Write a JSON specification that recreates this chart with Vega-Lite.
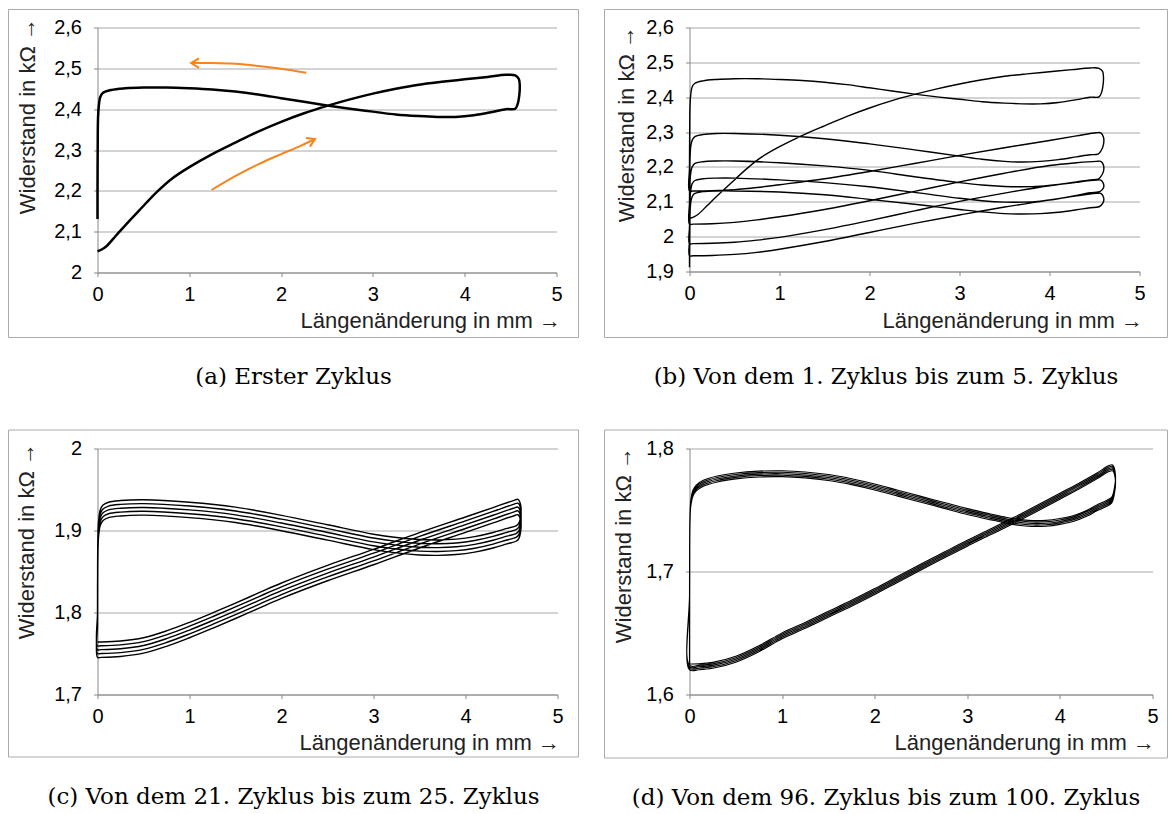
{
"$schema": "https://vega.github.io/schema/vega-lite/v6.json",
"padding": {"left": 7.5, "top": 8.5, "right": 0, "bottom": 0},
"background": "white",
"datasets": {
"b": [
{"c":1,"x":0,"y":2.052},{"c":1,"x":0.05,"y":2.057},{"c":1,"x":0.1,"y":2.065},{"c":1,"x":0.2,"y":2.09},{"c":1,"x":0.3,"y":2.115},{"c":1,"x":0.45,"y":2.151},{"c":1,"x":0.65,"y":2.198},{"c":1,"x":0.8,"y":2.228},{"c":1,"x":1,"y":2.258},{"c":1,"x":1.25,"y":2.29},{"c":1,"x":1.5,"y":2.318},{"c":1,"x":1.75,"y":2.345},{"c":1,"x":2,"y":2.369},{"c":1,"x":2.25,"y":2.39},{"c":1,"x":2.5,"y":2.408},{"c":1,"x":2.75,"y":2.424},{"c":1,"x":3,"y":2.438},{"c":1,"x":3.25,"y":2.45},{"c":1,"x":3.5,"y":2.46},{"c":1,"x":3.75,"y":2.467},{"c":1,"x":4,"y":2.473},{"c":1,"x":4.25,"y":2.479},{"c":1,"x":4.45,"y":2.484},{"c":1,"x":4.55,"y":2.483},{"c":1,"x":4.59,"y":2.474},{"c":1,"x":4.6,"y":2.455},{"c":1,"x":4.595,"y":2.435},{"c":1,"x":4.58,"y":2.415},{"c":1,"x":4.55,"y":2.401},{"c":1,"x":4.45,"y":2.4},{"c":1,"x":4.3,"y":2.393},{"c":1,"x":4.1,"y":2.385},{"c":1,"x":3.9,"y":2.381},{"c":1,"x":3.7,"y":2.381},{"c":1,"x":3.5,"y":2.383},{"c":1,"x":3.25,"y":2.387},{"c":1,"x":3,"y":2.394},{"c":1,"x":2.75,"y":2.401},{"c":1,"x":2.5,"y":2.409},{"c":1,"x":2.25,"y":2.418},{"c":1,"x":2,"y":2.427},{"c":1,"x":1.75,"y":2.436},{"c":1,"x":1.5,"y":2.443},{"c":1,"x":1.25,"y":2.448},{"c":1,"x":1,"y":2.451},{"c":1,"x":0.75,"y":2.453},{"c":1,"x":0.5,"y":2.453},{"c":1,"x":0.3,"y":2.451},{"c":1,"x":0.15,"y":2.447},{"c":1,"x":0.06,"y":2.44},{"c":1,"x":0.03,"y":2.43},{"c":1,"x":0.015,"y":2.41},{"c":1,"x":0.006,"y":2.38},{"c":1,"x":0.002,"y":2.3},{"c":1,"x":0,"y":2.2},{"c":1,"x":0,"y":2.131},
{"c":2,"x":0.04,"y":2.131},{"c":2,"x":0.25,"y":2.132},{"c":2,"x":0.5,"y":2.135},{"c":2,"x":0.75,"y":2.141},{"c":2,"x":1,"y":2.149},{"c":2,"x":1.5,"y":2.166},{"c":2,"x":2,"y":2.187},{"c":2,"x":2.5,"y":2.21},{"c":2,"x":3,"y":2.233},{"c":2,"x":3.5,"y":2.255},{"c":2,"x":4,"y":2.276},{"c":2,"x":4.3,"y":2.289},{"c":2,"x":4.52,"y":2.298},{"c":2,"x":4.57,"y":2.298},{"c":2,"x":4.6,"y":2.285},{"c":2,"x":4.6,"y":2.265},{"c":2,"x":4.57,"y":2.245},{"c":2,"x":4.54,"y":2.237},{"c":2,"x":4.45,"y":2.235},{"c":2,"x":4.3,"y":2.229},{"c":2,"x":4.1,"y":2.221},{"c":2,"x":3.9,"y":2.216},{"c":2,"x":3.7,"y":2.214},{"c":2,"x":3.5,"y":2.216},{"c":2,"x":3.25,"y":2.222},{"c":2,"x":3,"y":2.231},{"c":2,"x":2.5,"y":2.249},{"c":2,"x":2,"y":2.266},{"c":2,"x":1.5,"y":2.281},{"c":2,"x":1,"y":2.291},{"c":2,"x":0.5,"y":2.296},{"c":2,"x":0.3,"y":2.296},{"c":2,"x":0.15,"y":2.293},{"c":2,"x":0.06,"y":2.287},{"c":2,"x":0.03,"y":2.277},{"c":2,"x":0.015,"y":2.26},{"c":2,"x":0.006,"y":2.23},{"c":2,"x":0.002,"y":2.17},{"c":2,"x":0,"y":2.1},{"c":2,"x":0,"y":2.036},
{"c":3,"x":0.04,"y":2.036},{"c":3,"x":0.25,"y":2.037},{"c":3,"x":0.5,"y":2.041},{"c":3,"x":0.75,"y":2.048},{"c":3,"x":1,"y":2.057},{"c":3,"x":1.5,"y":2.078},{"c":3,"x":2,"y":2.103},{"c":3,"x":2.5,"y":2.13},{"c":3,"x":3,"y":2.157},{"c":3,"x":3.5,"y":2.182},{"c":3,"x":4,"y":2.204},{"c":3,"x":4.3,"y":2.212},{"c":3,"x":4.52,"y":2.216},{"c":3,"x":4.57,"y":2.216},{"c":3,"x":4.6,"y":2.205},{"c":3,"x":4.6,"y":2.188},{"c":3,"x":4.57,"y":2.172},{"c":3,"x":4.54,"y":2.165},{"c":3,"x":4.45,"y":2.163},{"c":3,"x":4.3,"y":2.157},{"c":3,"x":4.1,"y":2.15},{"c":3,"x":3.9,"y":2.145},{"c":3,"x":3.7,"y":2.143},{"c":3,"x":3.5,"y":2.144},{"c":3,"x":3.25,"y":2.148},{"c":3,"x":3,"y":2.155},{"c":3,"x":2.5,"y":2.172},{"c":3,"x":2,"y":2.19},{"c":3,"x":1.5,"y":2.203},{"c":3,"x":1,"y":2.212},{"c":3,"x":0.5,"y":2.217},{"c":3,"x":0.3,"y":2.217},{"c":3,"x":0.15,"y":2.215},{"c":3,"x":0.06,"y":2.21},{"c":3,"x":0.03,"y":2.2},{"c":3,"x":0.015,"y":2.185},{"c":3,"x":0.006,"y":2.16},{"c":3,"x":0.002,"y":2.1},{"c":3,"x":0,"y":2.03},{"c":3,"x":0,"y":1.98},
{"c":4,"x":0.04,"y":1.98},{"c":4,"x":0.25,"y":1.981},{"c":4,"x":0.5,"y":1.984},{"c":4,"x":0.75,"y":1.99},{"c":4,"x":1,"y":1.998},{"c":4,"x":1.5,"y":2.02},{"c":4,"x":2,"y":2.046},{"c":4,"x":2.5,"y":2.074},{"c":4,"x":3,"y":2.101},{"c":4,"x":3.5,"y":2.125},{"c":4,"x":4,"y":2.146},{"c":4,"x":4.3,"y":2.156},{"c":4,"x":4.52,"y":2.162},{"c":4,"x":4.57,"y":2.162},{"c":4,"x":4.6,"y":2.152},{"c":4,"x":4.6,"y":2.14},{"c":4,"x":4.57,"y":2.131},{"c":4,"x":4.54,"y":2.128},{"c":4,"x":4.45,"y":2.126},{"c":4,"x":4.3,"y":2.118},{"c":4,"x":4.1,"y":2.109},{"c":4,"x":3.9,"y":2.102},{"c":4,"x":3.7,"y":2.099},{"c":4,"x":3.5,"y":2.099},{"c":4,"x":3.25,"y":2.103},{"c":4,"x":3,"y":2.11},{"c":4,"x":2.5,"y":2.127},{"c":4,"x":2,"y":2.143},{"c":4,"x":1.5,"y":2.155},{"c":4,"x":1,"y":2.163},{"c":4,"x":0.5,"y":2.168},{"c":4,"x":0.3,"y":2.168},{"c":4,"x":0.15,"y":2.166},{"c":4,"x":0.06,"y":2.161},{"c":4,"x":0.03,"y":2.152},{"c":4,"x":0.015,"y":2.135},{"c":4,"x":0.006,"y":2.11},{"c":4,"x":0.002,"y":2.05},{"c":4,"x":0,"y":1.99},{"c":4,"x":0,"y":1.945},
{"c":5,"x":0.04,"y":1.945},{"c":5,"x":0.25,"y":1.946},{"c":5,"x":0.5,"y":1.949},{"c":5,"x":0.75,"y":1.955},{"c":5,"x":1,"y":1.964},{"c":5,"x":1.5,"y":1.986},{"c":5,"x":2,"y":2.012},{"c":5,"x":2.5,"y":2.038},{"c":5,"x":3,"y":2.062},{"c":5,"x":3.5,"y":2.085},{"c":5,"x":4,"y":2.105},{"c":5,"x":4.3,"y":2.117},{"c":5,"x":4.52,"y":2.124},{"c":5,"x":4.57,"y":2.124},{"c":5,"x":4.6,"y":2.113},{"c":5,"x":4.6,"y":2.1},{"c":5,"x":4.57,"y":2.089},{"c":5,"x":4.54,"y":2.085},{"c":5,"x":4.45,"y":2.083},{"c":5,"x":4.3,"y":2.077},{"c":5,"x":4.1,"y":2.07},{"c":5,"x":3.9,"y":2.066},{"c":5,"x":3.7,"y":2.065},{"c":5,"x":3.5,"y":2.066},{"c":5,"x":3.25,"y":2.071},{"c":5,"x":3,"y":2.078},{"c":5,"x":2.5,"y":2.093},{"c":5,"x":2,"y":2.107},{"c":5,"x":1.5,"y":2.12},{"c":5,"x":1,"y":2.128},{"c":5,"x":0.5,"y":2.131},{"c":5,"x":0.3,"y":2.131},{"c":5,"x":0.15,"y":2.129},{"c":5,"x":0.06,"y":2.124},{"c":5,"x":0.03,"y":2.115},{"c":5,"x":0.015,"y":2.1},{"c":5,"x":0.006,"y":2.07},{"c":5,"x":0.002,"y":2.0},{"c":5,"x":0,"y":1.95},{"c":5,"x":0,"y":1.912}
],
"c": [
{"c":21,"x":0,"y":1.7641},{"c":21,"x":0.04,"y":1.7641},{"c":21,"x":0.25,"y":1.7652},{"c":21,"x":0.5,"y":1.7692},{"c":21,"x":0.75,"y":1.7775},{"c":21,"x":1,"y":1.788},{"c":21,"x":1.25,"y":1.7995},{"c":21,"x":1.5,"y":1.8115},{"c":21,"x":1.75,"y":1.8238},{"c":21,"x":2,"y":1.836},{"c":21,"x":2.5,"y":1.8575},{"c":21,"x":3,"y":1.877},{"c":21,"x":3.5,"y":1.8975},{"c":21,"x":4,"y":1.9165},{"c":21,"x":4.3,"y":1.928},{"c":21,"x":4.52,"y":1.9365},{"c":21,"x":4.57,"y":1.938},{"c":21,"x":4.6,"y":1.931},{"c":21,"x":4.6,"y":1.918},{"c":21,"x":4.58,"y":1.909},{"c":21,"x":4.55,"y":1.9057},{"c":21,"x":4.45,"y":1.9025},{"c":21,"x":4.3,"y":1.8975},{"c":21,"x":4.1,"y":1.8925},{"c":21,"x":3.9,"y":1.8895},{"c":21,"x":3.7,"y":1.8885},{"c":21,"x":3.5,"y":1.889},{"c":21,"x":3.25,"y":1.8915},{"c":21,"x":3,"y":1.8955},{"c":21,"x":2.5,"y":1.907},{"c":21,"x":2,"y":1.9185},{"c":21,"x":1.5,"y":1.9285},{"c":21,"x":1,"y":1.9345},{"c":21,"x":0.5,"y":1.9375},{"c":21,"x":0.25,"y":1.9365},{"c":21,"x":0.12,"y":1.9345},{"c":21,"x":0.06,"y":1.931},{"c":21,"x":0.03,"y":1.925},{"c":21,"x":0.012,"y":1.912},{"c":21,"x":0.004,"y":1.89},{"c":21,"x":0.001,"y":1.85},{"c":21,"x":0,"y":1.8},
{"c":22,"x":0,"y":1.7594},{"c":22,"x":0.04,"y":1.7594},{"c":22,"x":0.25,"y":1.7605},{"c":22,"x":0.5,"y":1.7645},{"c":22,"x":0.75,"y":1.7728},{"c":22,"x":1,"y":1.7833},{"c":22,"x":1.25,"y":1.7948},{"c":22,"x":1.5,"y":1.8068},{"c":22,"x":1.75,"y":1.8191},{"c":22,"x":2,"y":1.8313},{"c":22,"x":2.5,"y":1.8528},{"c":22,"x":3,"y":1.8723},{"c":22,"x":3.5,"y":1.8928},{"c":22,"x":4,"y":1.9118},{"c":22,"x":4.3,"y":1.9233},{"c":22,"x":4.52,"y":1.9318},{"c":22,"x":4.57,"y":1.9333},{"c":22,"x":4.6,"y":1.9263},{"c":22,"x":4.6,"y":1.9133},{"c":22,"x":4.58,"y":1.9043},{"c":22,"x":4.55,"y":1.901},{"c":22,"x":4.45,"y":1.8978},{"c":22,"x":4.3,"y":1.8928},{"c":22,"x":4.1,"y":1.8878},{"c":22,"x":3.9,"y":1.8848},{"c":22,"x":3.7,"y":1.8838},{"c":22,"x":3.5,"y":1.8843},{"c":22,"x":3.25,"y":1.8868},{"c":22,"x":3,"y":1.8908},{"c":22,"x":2.5,"y":1.9023},{"c":22,"x":2,"y":1.9138},{"c":22,"x":1.5,"y":1.9238},{"c":22,"x":1,"y":1.9298},{"c":22,"x":0.5,"y":1.9328},{"c":22,"x":0.25,"y":1.9318},{"c":22,"x":0.12,"y":1.9298},{"c":22,"x":0.06,"y":1.9263},{"c":22,"x":0.03,"y":1.9203},{"c":22,"x":0.012,"y":1.9073},{"c":22,"x":0.004,"y":1.8853},{"c":22,"x":0.001,"y":1.8453},{"c":22,"x":0,"y":1.7953},
{"c":23,"x":0,"y":1.7547},{"c":23,"x":0.04,"y":1.7547},{"c":23,"x":0.25,"y":1.7558},{"c":23,"x":0.5,"y":1.7598},{"c":23,"x":0.75,"y":1.7681},{"c":23,"x":1,"y":1.7786},{"c":23,"x":1.25,"y":1.7901},{"c":23,"x":1.5,"y":1.8021},{"c":23,"x":1.75,"y":1.8144},{"c":23,"x":2,"y":1.8266},{"c":23,"x":2.5,"y":1.8481},{"c":23,"x":3,"y":1.8676},{"c":23,"x":3.5,"y":1.8881},{"c":23,"x":4,"y":1.9071},{"c":23,"x":4.3,"y":1.9186},{"c":23,"x":4.52,"y":1.9271},{"c":23,"x":4.57,"y":1.9286},{"c":23,"x":4.6,"y":1.9216},{"c":23,"x":4.6,"y":1.9086},{"c":23,"x":4.58,"y":1.8996},{"c":23,"x":4.55,"y":1.8963},{"c":23,"x":4.45,"y":1.8931},{"c":23,"x":4.3,"y":1.8881},{"c":23,"x":4.1,"y":1.8831},{"c":23,"x":3.9,"y":1.8801},{"c":23,"x":3.7,"y":1.8791},{"c":23,"x":3.5,"y":1.8796},{"c":23,"x":3.25,"y":1.8821},{"c":23,"x":3,"y":1.8861},{"c":23,"x":2.5,"y":1.8976},{"c":23,"x":2,"y":1.9091},{"c":23,"x":1.5,"y":1.9191},{"c":23,"x":1,"y":1.9251},{"c":23,"x":0.5,"y":1.9281},{"c":23,"x":0.25,"y":1.9271},{"c":23,"x":0.12,"y":1.9251},{"c":23,"x":0.06,"y":1.9216},{"c":23,"x":0.03,"y":1.9156},{"c":23,"x":0.012,"y":1.9026},{"c":23,"x":0.004,"y":1.8806},{"c":23,"x":0.001,"y":1.8406},{"c":23,"x":0,"y":1.7906},
{"c":24,"x":0,"y":1.75},{"c":24,"x":0.04,"y":1.75},{"c":24,"x":0.25,"y":1.7511},{"c":24,"x":0.5,"y":1.7551},{"c":24,"x":0.75,"y":1.7634},{"c":24,"x":1,"y":1.7739},{"c":24,"x":1.25,"y":1.7854},{"c":24,"x":1.5,"y":1.7974},{"c":24,"x":1.75,"y":1.8097},{"c":24,"x":2,"y":1.8219},{"c":24,"x":2.5,"y":1.8434},{"c":24,"x":3,"y":1.8629},{"c":24,"x":3.5,"y":1.8834},{"c":24,"x":4,"y":1.9024},{"c":24,"x":4.3,"y":1.9139},{"c":24,"x":4.52,"y":1.9224},{"c":24,"x":4.57,"y":1.9239},{"c":24,"x":4.6,"y":1.9169},{"c":24,"x":4.6,"y":1.9039},{"c":24,"x":4.58,"y":1.8949},{"c":24,"x":4.55,"y":1.8916},{"c":24,"x":4.45,"y":1.8884},{"c":24,"x":4.3,"y":1.8834},{"c":24,"x":4.1,"y":1.8784},{"c":24,"x":3.9,"y":1.8754},{"c":24,"x":3.7,"y":1.8744},{"c":24,"x":3.5,"y":1.8749},{"c":24,"x":3.25,"y":1.8774},{"c":24,"x":3,"y":1.8814},{"c":24,"x":2.5,"y":1.8929},{"c":24,"x":2,"y":1.9044},{"c":24,"x":1.5,"y":1.9144},{"c":24,"x":1,"y":1.9204},{"c":24,"x":0.5,"y":1.9234},{"c":24,"x":0.25,"y":1.9224},{"c":24,"x":0.12,"y":1.9204},{"c":24,"x":0.06,"y":1.9169},{"c":24,"x":0.03,"y":1.9109},{"c":24,"x":0.012,"y":1.8979},{"c":24,"x":0.004,"y":1.8759},{"c":24,"x":0.001,"y":1.8359},{"c":24,"x":0,"y":1.7859},
{"c":25,"x":0,"y":1.7453},{"c":25,"x":0.04,"y":1.7453},{"c":25,"x":0.25,"y":1.7464},{"c":25,"x":0.5,"y":1.7504},{"c":25,"x":0.75,"y":1.7587},{"c":25,"x":1,"y":1.7692},{"c":25,"x":1.25,"y":1.7807},{"c":25,"x":1.5,"y":1.7927},{"c":25,"x":1.75,"y":1.805},{"c":25,"x":2,"y":1.8172},{"c":25,"x":2.5,"y":1.8387},{"c":25,"x":3,"y":1.8582},{"c":25,"x":3.5,"y":1.8787},{"c":25,"x":4,"y":1.8977},{"c":25,"x":4.3,"y":1.9092},{"c":25,"x":4.52,"y":1.9177},{"c":25,"x":4.57,"y":1.9192},{"c":25,"x":4.6,"y":1.9122},{"c":25,"x":4.6,"y":1.8992},{"c":25,"x":4.58,"y":1.8902},{"c":25,"x":4.55,"y":1.8869},{"c":25,"x":4.45,"y":1.8837},{"c":25,"x":4.3,"y":1.8787},{"c":25,"x":4.1,"y":1.8737},{"c":25,"x":3.9,"y":1.8707},{"c":25,"x":3.7,"y":1.8697},{"c":25,"x":3.5,"y":1.8702},{"c":25,"x":3.25,"y":1.8727},{"c":25,"x":3,"y":1.8767},{"c":25,"x":2.5,"y":1.8882},{"c":25,"x":2,"y":1.8997},{"c":25,"x":1.5,"y":1.9097},{"c":25,"x":1,"y":1.9157},{"c":25,"x":0.5,"y":1.9187},{"c":25,"x":0.25,"y":1.9177},{"c":25,"x":0.12,"y":1.9157},{"c":25,"x":0.06,"y":1.9122},{"c":25,"x":0.03,"y":1.9062},{"c":25,"x":0.012,"y":1.8932},{"c":25,"x":0.004,"y":1.8712},{"c":25,"x":0.001,"y":1.8312},{"c":25,"x":0,"y":1.7812}
],
"d": [
{"c":96,"x":0,"y":1.6248},{"c":96,"x":0.1,"y":1.6249},{"c":96,"x":0.25,"y":1.6261},{"c":96,"x":0.5,"y":1.6311},{"c":96,"x":0.75,"y":1.6396},{"c":96,"x":1,"y":1.6501},{"c":96,"x":1.25,"y":1.6586},{"c":96,"x":1.5,"y":1.6676},{"c":96,"x":1.75,"y":1.6766},{"c":96,"x":2,"y":1.6861},{"c":96,"x":2.25,"y":1.6961},{"c":96,"x":2.5,"y":1.7061},{"c":96,"x":2.75,"y":1.7158},{"c":96,"x":3,"y":1.7254},{"c":96,"x":3.25,"y":1.7346},{"c":96,"x":3.5,"y":1.7439},{"c":96,"x":3.75,"y":1.7536},{"c":96,"x":4,"y":1.7636},{"c":96,"x":4.2,"y":1.7716},{"c":96,"x":4.4,"y":1.7801},{"c":96,"x":4.53,"y":1.7861},{"c":96,"x":4.57,"y":1.7866},{"c":96,"x":4.6,"y":1.7786},{"c":96,"x":4.59,"y":1.7686},{"c":96,"x":4.56,"y":1.7606},{"c":96,"x":4.5,"y":1.7576},{"c":96,"x":4.4,"y":1.7541},{"c":96,"x":4.3,"y":1.7501},{"c":96,"x":4.15,"y":1.7456},{"c":96,"x":4,"y":1.7431},{"c":96,"x":3.85,"y":1.7416},{"c":96,"x":3.7,"y":1.7414},{"c":96,"x":3.55,"y":1.7424},{"c":96,"x":3.4,"y":1.7444},{"c":96,"x":3.25,"y":1.7468},{"c":96,"x":3,"y":1.7511},{"c":96,"x":2.75,"y":1.7561},{"c":96,"x":2.5,"y":1.7611},{"c":96,"x":2.25,"y":1.7661},{"c":96,"x":2,"y":1.7711},{"c":96,"x":1.75,"y":1.7754},{"c":96,"x":1.5,"y":1.7788},{"c":96,"x":1.25,"y":1.7809},{"c":96,"x":1,"y":1.7819},{"c":96,"x":0.75,"y":1.7816},{"c":96,"x":0.5,"y":1.7801},{"c":96,"x":0.3,"y":1.7776},{"c":96,"x":0.15,"y":1.7741},{"c":96,"x":0.07,"y":1.7701},{"c":96,"x":0.035,"y":1.7656},{"c":96,"x":0.015,"y":1.7586},{"c":96,"x":0.005,"y":1.7456},{"c":96,"x":0.001,"y":1.7206},{"c":96,"x":0,"y":1.6806},
{"c":97,"x":0,"y":1.6236},{"c":97,"x":0.1,"y":1.6237},{"c":97,"x":0.25,"y":1.6249},{"c":97,"x":0.5,"y":1.6299},{"c":97,"x":0.75,"y":1.6384},{"c":97,"x":1,"y":1.6489},{"c":97,"x":1.25,"y":1.6574},{"c":97,"x":1.5,"y":1.6664},{"c":97,"x":1.75,"y":1.6754},{"c":97,"x":2,"y":1.6849},{"c":97,"x":2.25,"y":1.6949},{"c":97,"x":2.5,"y":1.7049},{"c":97,"x":2.75,"y":1.7146},{"c":97,"x":3,"y":1.7242},{"c":97,"x":3.25,"y":1.7334},{"c":97,"x":3.5,"y":1.7427},{"c":97,"x":3.75,"y":1.7524},{"c":97,"x":4,"y":1.7624},{"c":97,"x":4.2,"y":1.7704},{"c":97,"x":4.4,"y":1.7789},{"c":97,"x":4.53,"y":1.7849},{"c":97,"x":4.57,"y":1.7854},{"c":97,"x":4.6,"y":1.7774},{"c":97,"x":4.59,"y":1.7674},{"c":97,"x":4.56,"y":1.7594},{"c":97,"x":4.5,"y":1.7564},{"c":97,"x":4.4,"y":1.7529},{"c":97,"x":4.3,"y":1.7489},{"c":97,"x":4.15,"y":1.7444},{"c":97,"x":4,"y":1.7419},{"c":97,"x":3.85,"y":1.7404},{"c":97,"x":3.7,"y":1.7402},{"c":97,"x":3.55,"y":1.7412},{"c":97,"x":3.4,"y":1.7432},{"c":97,"x":3.25,"y":1.7456},{"c":97,"x":3,"y":1.7499},{"c":97,"x":2.75,"y":1.7549},{"c":97,"x":2.5,"y":1.7599},{"c":97,"x":2.25,"y":1.7649},{"c":97,"x":2,"y":1.7699},{"c":97,"x":1.75,"y":1.7742},{"c":97,"x":1.5,"y":1.7776},{"c":97,"x":1.25,"y":1.7797},{"c":97,"x":1,"y":1.7807},{"c":97,"x":0.75,"y":1.7804},{"c":97,"x":0.5,"y":1.7789},{"c":97,"x":0.3,"y":1.7764},{"c":97,"x":0.15,"y":1.7729},{"c":97,"x":0.07,"y":1.7689},{"c":97,"x":0.035,"y":1.7644},{"c":97,"x":0.015,"y":1.7574},{"c":97,"x":0.005,"y":1.7444},{"c":97,"x":0.001,"y":1.7194},{"c":97,"x":0,"y":1.6794},
{"c":98,"x":0,"y":1.6224},{"c":98,"x":0.1,"y":1.6225},{"c":98,"x":0.25,"y":1.6237},{"c":98,"x":0.5,"y":1.6287},{"c":98,"x":0.75,"y":1.6372},{"c":98,"x":1,"y":1.6477},{"c":98,"x":1.25,"y":1.6562},{"c":98,"x":1.5,"y":1.6652},{"c":98,"x":1.75,"y":1.6742},{"c":98,"x":2,"y":1.6837},{"c":98,"x":2.25,"y":1.6937},{"c":98,"x":2.5,"y":1.7037},{"c":98,"x":2.75,"y":1.7134},{"c":98,"x":3,"y":1.723},{"c":98,"x":3.25,"y":1.7322},{"c":98,"x":3.5,"y":1.7415},{"c":98,"x":3.75,"y":1.7512},{"c":98,"x":4,"y":1.7612},{"c":98,"x":4.2,"y":1.7692},{"c":98,"x":4.4,"y":1.7777},{"c":98,"x":4.53,"y":1.7837},{"c":98,"x":4.57,"y":1.7842},{"c":98,"x":4.6,"y":1.7762},{"c":98,"x":4.59,"y":1.7662},{"c":98,"x":4.56,"y":1.7582},{"c":98,"x":4.5,"y":1.7552},{"c":98,"x":4.4,"y":1.7517},{"c":98,"x":4.3,"y":1.7477},{"c":98,"x":4.15,"y":1.7432},{"c":98,"x":4,"y":1.7407},{"c":98,"x":3.85,"y":1.7392},{"c":98,"x":3.7,"y":1.739},{"c":98,"x":3.55,"y":1.74},{"c":98,"x":3.4,"y":1.742},{"c":98,"x":3.25,"y":1.7444},{"c":98,"x":3,"y":1.7487},{"c":98,"x":2.75,"y":1.7537},{"c":98,"x":2.5,"y":1.7587},{"c":98,"x":2.25,"y":1.7637},{"c":98,"x":2,"y":1.7687},{"c":98,"x":1.75,"y":1.773},{"c":98,"x":1.5,"y":1.7764},{"c":98,"x":1.25,"y":1.7785},{"c":98,"x":1,"y":1.7795},{"c":98,"x":0.75,"y":1.7792},{"c":98,"x":0.5,"y":1.7777},{"c":98,"x":0.3,"y":1.7752},{"c":98,"x":0.15,"y":1.7717},{"c":98,"x":0.07,"y":1.7677},{"c":98,"x":0.035,"y":1.7632},{"c":98,"x":0.015,"y":1.7562},{"c":98,"x":0.005,"y":1.7432},{"c":98,"x":0.001,"y":1.7182},{"c":98,"x":0,"y":1.6782},
{"c":99,"x":0,"y":1.6212},{"c":99,"x":0.1,"y":1.6213},{"c":99,"x":0.25,"y":1.6225},{"c":99,"x":0.5,"y":1.6275},{"c":99,"x":0.75,"y":1.636},{"c":99,"x":1,"y":1.6465},{"c":99,"x":1.25,"y":1.655},{"c":99,"x":1.5,"y":1.664},{"c":99,"x":1.75,"y":1.673},{"c":99,"x":2,"y":1.6825},{"c":99,"x":2.25,"y":1.6925},{"c":99,"x":2.5,"y":1.7025},{"c":99,"x":2.75,"y":1.7122},{"c":99,"x":3,"y":1.7218},{"c":99,"x":3.25,"y":1.731},{"c":99,"x":3.5,"y":1.7403},{"c":99,"x":3.75,"y":1.75},{"c":99,"x":4,"y":1.76},{"c":99,"x":4.2,"y":1.768},{"c":99,"x":4.4,"y":1.7765},{"c":99,"x":4.53,"y":1.7825},{"c":99,"x":4.57,"y":1.783},{"c":99,"x":4.6,"y":1.775},{"c":99,"x":4.59,"y":1.765},{"c":99,"x":4.56,"y":1.757},{"c":99,"x":4.5,"y":1.754},{"c":99,"x":4.4,"y":1.7505},{"c":99,"x":4.3,"y":1.7465},{"c":99,"x":4.15,"y":1.742},{"c":99,"x":4,"y":1.7395},{"c":99,"x":3.85,"y":1.738},{"c":99,"x":3.7,"y":1.7378},{"c":99,"x":3.55,"y":1.7388},{"c":99,"x":3.4,"y":1.7408},{"c":99,"x":3.25,"y":1.7432},{"c":99,"x":3,"y":1.7475},{"c":99,"x":2.75,"y":1.7525},{"c":99,"x":2.5,"y":1.7575},{"c":99,"x":2.25,"y":1.7625},{"c":99,"x":2,"y":1.7675},{"c":99,"x":1.75,"y":1.7718},{"c":99,"x":1.5,"y":1.7752},{"c":99,"x":1.25,"y":1.7773},{"c":99,"x":1,"y":1.7783},{"c":99,"x":0.75,"y":1.778},{"c":99,"x":0.5,"y":1.7765},{"c":99,"x":0.3,"y":1.774},{"c":99,"x":0.15,"y":1.7705},{"c":99,"x":0.07,"y":1.7665},{"c":99,"x":0.035,"y":1.762},{"c":99,"x":0.015,"y":1.755},{"c":99,"x":0.005,"y":1.742},{"c":99,"x":0.001,"y":1.717},{"c":99,"x":0,"y":1.677},
{"c":100,"x":0,"y":1.62},{"c":100,"x":0.1,"y":1.6201},{"c":100,"x":0.25,"y":1.6213},{"c":100,"x":0.5,"y":1.6263},{"c":100,"x":0.75,"y":1.6348},{"c":100,"x":1,"y":1.6453},{"c":100,"x":1.25,"y":1.6538},{"c":100,"x":1.5,"y":1.6628},{"c":100,"x":1.75,"y":1.6718},{"c":100,"x":2,"y":1.6813},{"c":100,"x":2.25,"y":1.6913},{"c":100,"x":2.5,"y":1.7013},{"c":100,"x":2.75,"y":1.711},{"c":100,"x":3,"y":1.7206},{"c":100,"x":3.25,"y":1.7298},{"c":100,"x":3.5,"y":1.7391},{"c":100,"x":3.75,"y":1.7488},{"c":100,"x":4,"y":1.7588},{"c":100,"x":4.2,"y":1.7668},{"c":100,"x":4.4,"y":1.7753},{"c":100,"x":4.53,"y":1.7813},{"c":100,"x":4.57,"y":1.7818},{"c":100,"x":4.6,"y":1.7738},{"c":100,"x":4.59,"y":1.7638},{"c":100,"x":4.56,"y":1.7558},{"c":100,"x":4.5,"y":1.7528},{"c":100,"x":4.4,"y":1.7493},{"c":100,"x":4.3,"y":1.7453},{"c":100,"x":4.15,"y":1.7408},{"c":100,"x":4,"y":1.7383},{"c":100,"x":3.85,"y":1.7368},{"c":100,"x":3.7,"y":1.7366},{"c":100,"x":3.55,"y":1.7376},{"c":100,"x":3.4,"y":1.7396},{"c":100,"x":3.25,"y":1.742},{"c":100,"x":3,"y":1.7463},{"c":100,"x":2.75,"y":1.7513},{"c":100,"x":2.5,"y":1.7563},{"c":100,"x":2.25,"y":1.7613},{"c":100,"x":2,"y":1.7663},{"c":100,"x":1.75,"y":1.7706},{"c":100,"x":1.5,"y":1.774},{"c":100,"x":1.25,"y":1.7761},{"c":100,"x":1,"y":1.7771},{"c":100,"x":0.75,"y":1.7768},{"c":100,"x":0.5,"y":1.7753},{"c":100,"x":0.3,"y":1.7728},{"c":100,"x":0.15,"y":1.7693},{"c":100,"x":0.07,"y":1.7653},{"c":100,"x":0.035,"y":1.7608},{"c":100,"x":0.015,"y":1.7538},{"c":100,"x":0.005,"y":1.7408},{"c":100,"x":0.001,"y":1.7158},{"c":100,"x":0,"y":1.6758},{"c":100,"x":0,"y":1.62}
],
"arr": [
{"a":1,"x":2.275,"y":2.489,"tip":0},{"a":1,"x":2.0,"y":2.499,"tip":0},{"a":1,"x":1.75,"y":2.506,"tip":0},{"a":1,"x":1.5,"y":2.511,"tip":0},{"a":1,"x":1.25,"y":2.513,"tip":0},{"a":1,"x":1.02,"y":2.513,"tip":1},
{"a":2,"x":1.242,"y":2.202,"tip":0},{"a":2,"x":1.5,"y":2.236,"tip":0},{"a":2,"x":1.75,"y":2.265,"tip":0},{"a":2,"x":2.0,"y":2.29,"tip":0},{"a":2,"x":2.2,"y":2.309,"tip":0},{"a":2,"x":2.37,"y":2.327,"tip":1}
]
},
"columns": 2,
"bounds": "full",
"spacing": {"row": 40, "column": 24},
"concat": [
{
"width": 459, "height": 245,
"title": "(a) Erster Zyklus",
"layer": [
{"data": {"name": "b"}, "transform": [{"filter": "datum.c == 1"}], "mark": {"type": "line", "strokeWidth": 2.5},
 "encoding": {
  "x": {"field": "x", "type": "quantitative", "scale": {"domain": [0, 5], "nice": false, "zero": false}, "axis": {"title": "Längenänderung in mm →", "titleX": 463, "titleY": 55, "values": [0, 1, 2, 3, 4, 5], "tickCount": 20, "format": "d", "grid": false, "labelFlush": false, "labelOverlap": false, "labelPadding": 8, "labelFont": "Liberation Sans", "labelFontSize": 20, "labelColor": "#000000", "titleFont": "Liberation Sans", "titleFontSize": 22, "titleFontWeight": "normal", "titleColor": "#222222", "titleAlign": "right", "titleBaseline": "alphabetic", "domainColor": "#888888", "tickColor": "#888888", "tickSize": 4}},
  "y": {"field": "y", "type": "quantitative", "scale": {"domain": [2, 2.6], "nice": false, "zero": false}, "axis": {"title": "Widerstand in kΩ →", "values": [2, 2.1, 2.2, 2.3, 2.4, 2.5, 2.6], "tickCount": 20, "titleX": -70, "titleY": -10, "labelExpr": "replace(format(datum.value, '.1~f'), '.', ',')", "grid": true, "gridColor": "#a8a8a8", "labelOverlap": false, "labelPadding": 12, "labelFont": "Liberation Sans", "labelFontSize": 20, "labelColor": "#000000", "titleFont": "Liberation Sans", "titleFontSize": 22, "titleFontWeight": "normal", "titleColor": "#222222", "titleAlign": "right", "titleBaseline": "middle", "titleAngle": 270, "domainColor": "#888888", "tickColor": "#888888", "tickSize": 4}},
  "order": {"value": null}}},
{"data": {"values": [{"k": 1}]}, "mark": {"type": "rect", "fill": "white", "fillOpacity": 0, "stroke": "#ababab", "strokeWidth": 1},
 "encoding": {"x": {"datum": -0.9695, "type": "quantitative", "scale": {"domain": [0, 5], "nice": false, "zero": false}}, "x2": {"datum": 5.2397}, "y": {"datum": 2.6441, "type": "quantitative", "scale": {"domain": [2, 2.6], "nice": false, "zero": false}}, "y2": {"datum": 1.8408}}},
{"data": {"name": "arr"}, "mark": {"type": "line", "color": "#f7841e", "strokeWidth": 2},
 "encoding": {"x": {"field": "x", "type": "quantitative", "scale": {"domain": [0, 5], "nice": false, "zero": false}}, "y": {"field": "y", "type": "quantitative", "scale": {"domain": [2, 2.6], "nice": false, "zero": false}}, "detail": {"field": "a"}, "order": {"value": null}}},
{"data": {"name": "arr"}, "transform": [{"filter": "datum.tip == 1 && datum.a == 1"}], "mark": {"type": "point", "shape": "M-1,-0.6L0,0L-1,0.6", "filled": false, "stroke": "#f7841e", "strokeWidth": 2, "size": 250, "angle": 180, "opacity": 1},
 "encoding": {"x": {"field": "x", "type": "quantitative", "scale": {"domain": [0, 5], "nice": false, "zero": false}}, "y": {"field": "y", "type": "quantitative", "scale": {"domain": [2, 2.6], "nice": false, "zero": false}}}},
{"data": {"name": "arr"}, "transform": [{"filter": "datum.tip == 1 && datum.a == 2"}], "mark": {"type": "point", "shape": "M-1,-0.6L0,0L-1,0.6", "filled": false, "stroke": "#f7841e", "strokeWidth": 2, "size": 250, "angle": 335, "opacity": 1},
 "encoding": {"x": {"field": "x", "type": "quantitative", "scale": {"domain": [0, 5], "nice": false, "zero": false}}, "y": {"field": "y", "type": "quantitative", "scale": {"domain": [2, 2.6], "nice": false, "zero": false}}}}
]
},
{
"width": 450, "height": 244,
"title": "(b) Von dem 1. Zyklus bis zum 5. Zyklus",
"layer": [
{"data": {"name": "b"}, "mark": {"type": "line", "strokeWidth": 1.4},
 "encoding": {
  "x": {"field": "x", "type": "quantitative", "scale": {"domain": [0, 5], "nice": false, "zero": false}, "axis": {"title": "Längenänderung in mm →", "titleX": 453, "titleY": 56, "values": [0, 1, 2, 3, 4, 5], "tickCount": 20, "format": "d", "grid": false, "labelFlush": false, "labelOverlap": false, "labelPadding": 8, "labelFont": "Liberation Sans", "labelFontSize": 20, "labelColor": "#000000", "titleFont": "Liberation Sans", "titleFontSize": 22, "titleFontWeight": "normal", "titleColor": "#222222", "titleAlign": "right", "titleBaseline": "alphabetic", "domainColor": "#888888", "tickColor": "#888888", "tickSize": 4}},
  "y": {"field": "y", "type": "quantitative", "scale": {"domain": [1.9, 2.6], "nice": false, "zero": false}, "axis": {"title": "Widerstand in kΩ →", "values": [1.9, 2, 2.1, 2.2, 2.3, 2.4, 2.5, 2.6], "tickCount": 20, "titleX": -63, "titleY": -2, "labelExpr": "replace(format(datum.value, '.1~f'), '.', ',')", "grid": true, "gridColor": "#a8a8a8", "labelOverlap": false, "labelPadding": 12, "labelFont": "Liberation Sans", "labelFontSize": 20, "labelColor": "#000000", "titleFont": "Liberation Sans", "titleFontSize": 22, "titleFontWeight": "normal", "titleColor": "#222222", "titleAlign": "right", "titleBaseline": "middle", "titleAngle": 270, "domainColor": "#888888", "tickColor": "#888888", "tickSize": 4}},
  "order": {"value": null}}},
{"data": {"values": [{"k": 1}]}, "mark": {"type": "rect", "fill": "white", "fillOpacity": 0, "stroke": "#ababab", "strokeWidth": 1},
 "encoding": {"x": {"datum": -0.9444, "type": "quantitative", "scale": {"domain": [0, 5], "nice": false, "zero": false}}, "x2": {"datum": 5.3111}, "y": {"datum": 2.6516, "type": "quantitative", "scale": {"domain": [1.9, 2.6], "nice": false, "zero": false}}, "y2": {"datum": 1.7107}}}
]
},
{
"width": 460, "height": 246,
"title": "(c) Von dem 21. Zyklus bis zum 25. Zyklus",
"layer": [
{"data": {"name": "c"}, "mark": {"type": "line", "strokeWidth": 1.4},
 "encoding": {
  "x": {"field": "x", "type": "quantitative", "scale": {"domain": [0, 5], "nice": false, "zero": false}, "axis": {"title": "Längenänderung in mm →", "titleX": 462, "titleY": 54.5, "values": [0, 1, 2, 3, 4, 5], "tickCount": 20, "format": "d", "grid": false, "labelFlush": false, "labelOverlap": false, "labelPadding": 8, "labelFont": "Liberation Sans", "labelFontSize": 20, "labelColor": "#000000", "titleFont": "Liberation Sans", "titleFontSize": 22, "titleFontWeight": "normal", "titleColor": "#222222", "titleAlign": "right", "titleBaseline": "alphabetic", "domainColor": "#888888", "tickColor": "#888888", "tickSize": 4}},
  "y": {"field": "y", "type": "quantitative", "scale": {"domain": [1.7, 2], "nice": false, "zero": false}, "axis": {"title": "Widerstand in kΩ →", "values": [1.7, 1.8, 1.9, 2], "tickCount": 20, "titleX": -71, "titleY": -6, "labelExpr": "replace(format(datum.value, '.1~f'), '.', ',')", "grid": true, "gridColor": "#a8a8a8", "labelOverlap": false, "labelPadding": 12, "labelFont": "Liberation Sans", "labelFontSize": 20, "labelColor": "#000000", "titleFont": "Liberation Sans", "titleFontSize": 22, "titleFontWeight": "normal", "titleColor": "#222222", "titleAlign": "right", "titleBaseline": "middle", "titleAngle": 270, "domainColor": "#888888", "tickColor": "#888888", "tickSize": 4}},
  "order": {"value": null}}},
{"data": {"values": [{"k": 1}]}, "mark": {"type": "rect", "fill": "white", "fillOpacity": 0, "stroke": "#ababab", "strokeWidth": 1},
 "encoding": {"x": {"datum": -0.9674, "type": "quantitative", "scale": {"domain": [0, 5], "nice": false, "zero": false}}, "x2": {"datum": 5.2283}, "y": {"datum": 2.02256, "type": "quantitative", "scale": {"domain": [1.7, 2], "nice": false, "zero": false}}, "y2": {"datum": 1.62378}}}
]
},
{
"width": 463, "height": 246,
"title": "(d) Von dem 96. Zyklus bis zum 100. Zyklus",
"layer": [
{"data": {"name": "d"}, "mark": {"type": "line", "strokeWidth": 1.1},
 "encoding": {
  "x": {"field": "x", "type": "quantitative", "scale": {"domain": [0, 5], "nice": false, "zero": false}, "axis": {"title": "Längenänderung in mm →", "titleX": 465, "titleY": 54.5, "values": [0, 1, 2, 3, 4, 5], "tickCount": 20, "format": "d", "grid": false, "labelFlush": false, "labelOverlap": false, "labelPadding": 8, "labelFont": "Liberation Sans", "labelFontSize": 20, "labelColor": "#000000", "titleFont": "Liberation Sans", "titleFontSize": 22, "titleFontWeight": "normal", "titleColor": "#222222", "titleAlign": "right", "titleBaseline": "alphabetic", "domainColor": "#888888", "tickColor": "#888888", "tickSize": 4}},
  "y": {"field": "y", "type": "quantitative", "scale": {"domain": [1.6, 1.8], "nice": false, "zero": false}, "axis": {"title": "Widerstand in kΩ →", "values": [1.6, 1.7, 1.8], "tickCount": 20, "titleX": -66, "titleY": -2, "labelExpr": "replace(format(datum.value, '.1~f'), '.', ',')", "grid": true, "gridColor": "#a8a8a8", "labelOverlap": false, "labelPadding": 12, "labelFont": "Liberation Sans", "labelFontSize": 20, "labelColor": "#000000", "titleFont": "Liberation Sans", "titleFontSize": 22, "titleFontWeight": "normal", "titleColor": "#222222", "titleAlign": "right", "titleBaseline": "middle", "titleAngle": 270, "domainColor": "#888888", "tickColor": "#888888", "tickSize": 4}},
  "order": {"value": null}}},
{"data": {"values": [{"k": 1}]}, "mark": {"type": "rect", "fill": "white", "fillOpacity": 0, "stroke": "#ababab", "strokeWidth": 1},
 "encoding": {"x": {"datum": -0.9179, "type": "quantitative", "scale": {"domain": [0, 5], "nice": false, "zero": false}}, "x2": {"datum": 5.162}, "y": {"datum": 1.81504, "type": "quantitative", "scale": {"domain": [1.6, 1.8], "nice": false, "zero": false}}, "y2": {"datum": 1.54837}}}
]
}
],
"config": {
"view": {"stroke": null},
"line": {"interpolate": "catmull-rom", "color": "#000000"},
"title": {"orient": "bottom", "anchor": "middle", "frame": "bounds", "font": "DejaVu Serif", "fontSize": 23, "fontWeight": "normal", "color": "#000000", "offset": 28}
}
}
